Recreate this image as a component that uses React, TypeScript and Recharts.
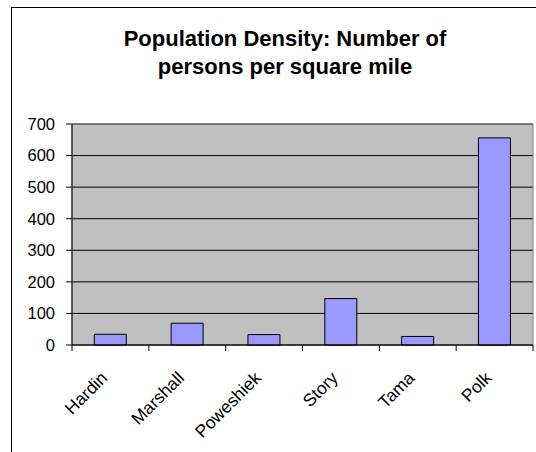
import React from 'react';
import { BarChart, Bar, XAxis, YAxis, CartesianGrid, ReferenceArea } from 'recharts';

const counties = ['Hardin', 'Marshall', 'Poweshiek', 'Story', 'Tama', 'Polk'];
const density = [34, 69, 33, 147, 27, 656];
const yTicks = [0, 100, 200, 300, 400, 500, 600, 700];
const titleLines = ['Population Density: Number of', 'persons per square mile'];

const data = counties.map((c, i) => ({ county: c, density: density[i] }));

const W = 536;
const H = 452;
const M = { top: 124, right: 3, bottom: 0, left: 0 };
const Y_W = 72;
const X_H = 107;
const PLOT_W = W - M.left - M.right - Y_W;
const BAND = PLOT_W / counties.length;
const FONT = '"Liberation Sans", Arial, sans-serif';

const XTick = (props: any) => {
  const { x, y, payload, index } = props;
  const half = BAND / 2;
  const ax = x - 2;
  const ay = y + 26;
  return (
    <g>
      <line x1={x - half} y1={y - 8} x2={x - half} y2={y - 2} stroke="#000" strokeWidth={1} />
      {index === counties.length - 1 && (
        <line x1={x + half} y1={y - 8} x2={x + half} y2={y - 2} stroke="#000" strokeWidth={1} />
      )}
      <text
        x={ax}
        y={ay}
        transform={`rotate(-45 ${ax} ${ay})`}
        textAnchor="end"
        fontSize={17.5}
        fontFamily={FONT}
        fill="#000"
      >
        {payload.value}
      </text>
    </g>
  );
};

export default function App() {
  return (
    <div style={{ position: 'absolute', left: 0, top: 0, width: W, height: H, background: '#fff', overflow: 'hidden' }}>
      <div style={{ position: 'absolute', left: 11, top: 7, width: 600, height: 600, borderLeft: '1px solid #000', borderTop: '1px solid #000' }} />
      <svg style={{ position: 'absolute', left: 0, top: 0 }} width={W} height={H}>
        {titleLines.map((t, i) => (
          <text key={i} x={285} y={46 + i * 28} textAnchor="middle" fontSize={22} fontWeight="bold" fontFamily={FONT} fill="#000">
            {t}
          </text>
        ))}
      </svg>
      <div style={{ position: 'absolute', left: 0, top: 0 }}>
        <BarChart width={W} height={H} data={data} margin={M} barCategoryGap="29%">
          <CartesianGrid vertical={false} stroke="#000" fill="#C0C0C0" fillOpacity={1} />
          <ReferenceArea y1={0} y2={700} fill="none" stroke="#808080" strokeWidth={1} ifOverflow="visible" />
          <XAxis
            dataKey="county"
            height={X_H}
            axisLine={{ stroke: '#000' }}
            tickLine={false}
            tick={<XTick />}
            interval={0}
            tickMargin={0}
            tickSize={8}
          />
          <YAxis
            width={Y_W}
            domain={[0, 700]}
            ticks={yTicks}
            interval={0}
            axisLine={{ stroke: '#000' }}
            tickLine={{ stroke: '#000' }}
            tickSize={6}
            tickMargin={11}
            tick={{ fontSize: 16.5, fontFamily: FONT, fill: '#000' }}
          />
          <Bar dataKey="density" fill="#9999FF" stroke="#000" strokeWidth={1} isAnimationActive={false} />
        </BarChart>
      </div>
    </div>
  );
}
